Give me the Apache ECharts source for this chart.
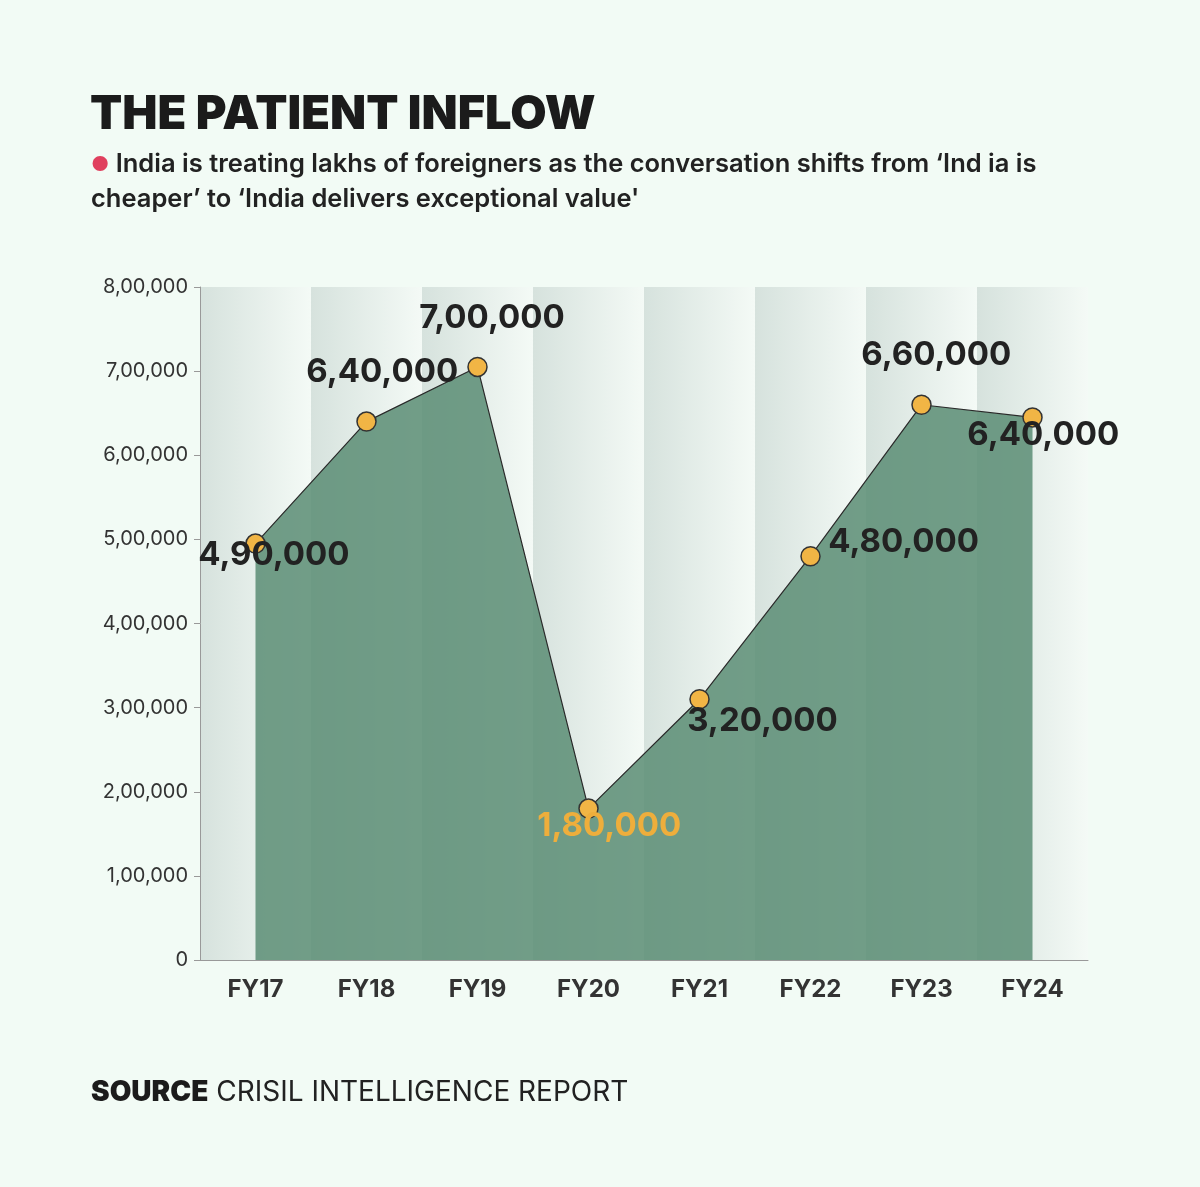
<!DOCTYPE html>
<html>
<head>
<meta charset="utf-8">
<script src="https://cdn.jsdelivr.net/npm/echarts@6/dist/echarts.min.js"></script>
<style>
  html, body { margin: 0; padding: 0; background: #f2fbf5; }
  #chart { width: 1200px; height: 1187px; }
</style>
</head>
<body>
<div id="chart"></div>
<script>
var years = ['FY17', 'FY18', 'FY19', 'FY20', 'FY21', 'FY22', 'FY23', 'FY24'];
var patients = [495000, 640000, 705000, 180000, 310000, 480000, 660000, 645000];
var labelText = ['4,90,000', '6,40,000', '7,00,000', '1,80,000', '3,20,000', '4,80,000', '6,60,000', '6,40,000'];
// where each value label sits
var labelPos = [[-47, 22], [-50, -39], [-48, -39], [-41, 28], [-2, 32], [28, -4], [-50, -39], [-55, 28]];

function indian(v) {
    if (v === 0) return '0';
    var s = String(v);
    var last3 = s.slice(-3), rest = s.slice(0, -3);
    if (!rest) return last3;
    return rest.replace(/\B(?=(\d{2})+(?!\d))/g, ',') + ',' + last3;
}

var bandGrad = new echarts.graphic.LinearGradient(0, 0, 1, 0, [
    {offset: 0, color: '#d6e2dd'},
    {offset: 1, color: '#f4faf6'}
]);

var myChart = echarts.init(document.getElementById('chart'));
myChart.setOption({
    animation: false,
    backgroundColor: '#f2fbf5',
    title: [
        {
            text: 'THE PATIENT INFLOW',
            left: 85, top: 86,
            textStyle: {fontFamily: 'Inter', fontWeight: 900, fontSize: 47, color: '#1b1b1b'}
        },
        {
            text: '{dot|●} India is treating lakhs of foreigners as the conversation shifts from \u2018Ind ia is\ncheaper\u2019 to \u2018India delivers exceptional value\'',
            left: 86, top: 142,
            textStyle: {
                fontFamily: 'Inter', fontWeight: 600, fontSize: 25.5, color: '#222', lineHeight: 35,
                rich: {dot: {color: '#e0405e', fontSize: 20}}
            }
        },
        {
            text: '{b|SOURCE} CRISIL INTELLIGENCE REPORT',
            left: 86, top: 1074,
            textStyle: {
                fontFamily: 'Inter', fontWeight: 400, fontSize: 28, color: '#222',
                rich: {b: {fontFamily: 'Inter', fontWeight: 900, fontSize: 28, color: '#1b1b1b'}}
            }
        }
    ],
    grid: {left: 200, right: 112, top: 287, bottom: 227},
    xAxis: {
        type: 'category',
        data: years,
        boundaryGap: true,
        axisLine: {lineStyle: {color: '#999', width: 1}},
        axisTick: {show: false},
        axisLabel: {fontFamily: 'Inter', fontWeight: 700, fontSize: 24, color: '#333', margin: 18},
        splitArea: {show: true, areaStyle: {color: [bandGrad, bandGrad]}}
    },
    yAxis: {
        type: 'value',
        min: 0, max: 800000, interval: 100000,
        axisLine: {show: true, lineStyle: {color: '#999'}},
        axisTick: {show: true, length: 6, lineStyle: {color: '#999'}},
        splitLine: {show: false},
        axisLabel: {fontFamily: 'Inter', fontSize: 20, color: '#333', margin: 12, formatter: indian}
    },
    series: [{
        type: 'line',
        data: patients.map(function (v, i) {
            return {
                value: v,
                label: {
                    show: true,
                    position: labelPos[i],
                    formatter: labelText[i],
                    color: i === 3 ? '#eeae3c' : '#222'
                }
            };
        }),
        symbol: 'circle',
        symbolSize: 19,
        itemStyle: {color: '#f1b545', borderColor: '#333', borderWidth: 1.5},
        lineStyle: {color: '#2a2a2a', width: 1.2},
        areaStyle: {color: '#5e8f77', opacity: 0.88},
        label: {fontFamily: 'Inter', fontWeight: 700, fontSize: 33, align: 'left', verticalAlign: 'middle', letterSpacing: -1.5}
    }]
});
</script>
</body>
</html>
